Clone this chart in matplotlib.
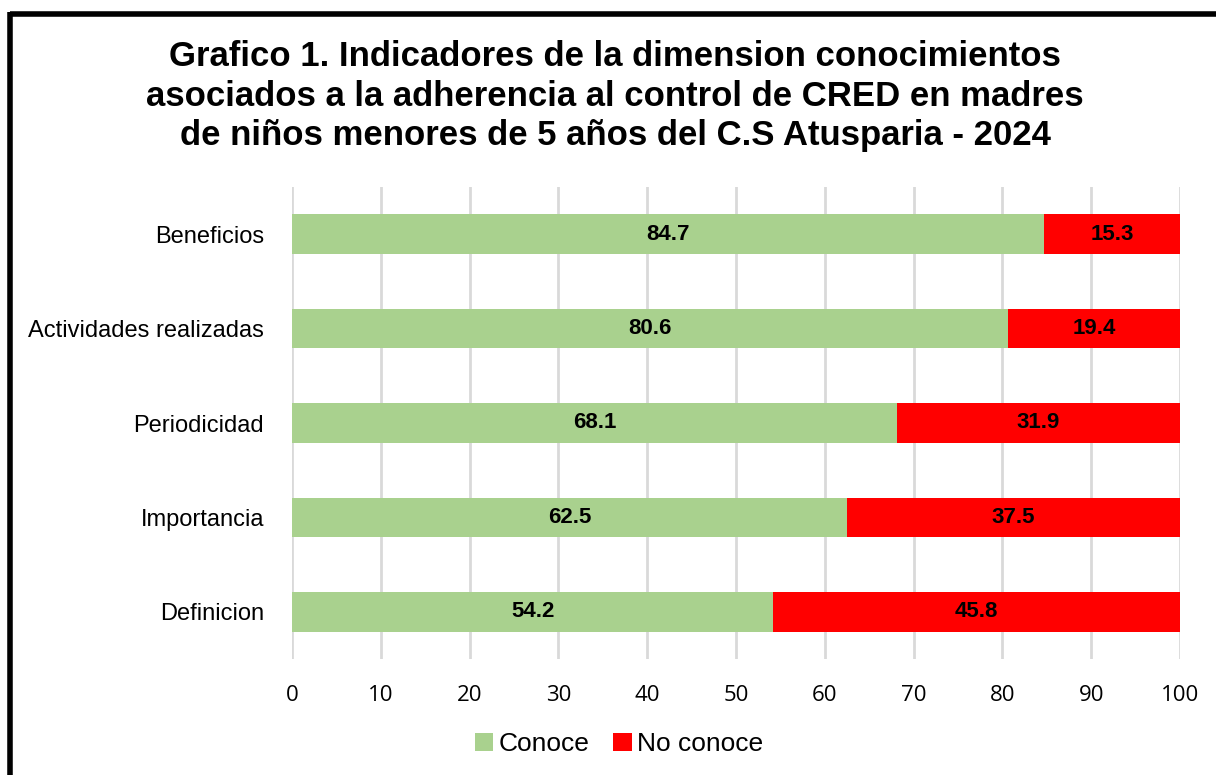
import matplotlib
matplotlib.use("Agg")
import matplotlib.pyplot as plt
from matplotlib.lines import Line2D
from matplotlib.patches import Patch

categories = ["Definicion", "Importancia", "Periodicidad", "Actividades realizadas", "Beneficios"]
conoce = [54.2, 62.5, 68.1, 80.6, 84.7]
no_conoce = [45.8, 37.5, 31.9, 19.4, 15.3]
series_names = ["Conoce", "No conoce"]
xticks = [0, 10, 20, 30, 40, 50, 60, 70, 80, 90, 100]
title = ("Grafico 1. Indicadores de la dimension conocimientos\n"
         "asociados a la adherencia al control de CRED en madres\n"
         "de niños menores de 5 años del C.S Atusparia - 2024")

GREEN = "#A9D18E"
RED = "#FF0000"

fig = plt.figure(figsize=(12.16, 7.75), dpi=100)
ax = fig.add_axes([292/1216, 1-659/775, (1180-292)/1216, (659-187)/775])

y = list(range(len(categories)))
ax.barh(y, conoce, height=0.42, color=GREEN, label=series_names[0], zorder=3)
ax.barh(y, no_conoce, left=conoce, height=0.42, color=RED, label=series_names[1], zorder=3)

for i in y:
    ax.text(conoce[i]/2, i, f"{conoce[i]:.1f}", ha="center", va="center",
            fontsize=16, fontweight="bold", family="Liberation Sans", zorder=4)
    ax.text(conoce[i] + no_conoce[i]/2, i, f"{no_conoce[i]:.1f}", ha="center", va="center",
            fontsize=16, fontweight="bold", family="Liberation Sans", zorder=4)

ax.set_xlim(0, 100)
ax.set_ylim(-0.5, len(categories) - 0.5)
ax.set_xticks(xticks)
ax.set_xticklabels([str(t) for t in xticks], family="Open Sans", fontsize=16)
ax.set_yticks(y)
ax.set_yticklabels(categories, family="Liberation Sans", fontsize=17)
ax.tick_params(axis="both", length=0)
ax.tick_params(axis="x", pad=19)
ax.tick_params(axis="y", pad=20)
for s in ax.spines.values():
    s.set_visible(False)
ax.grid(axis="x", color="#D9D9D9", linewidth=2, zorder=0)
ax.set_axisbelow(True)

fig.text(0.506, 1-96/775, title, ha="center", va="center", fontsize=25,
         fontweight="bold", family="Liberation Sans", linespacing=1.26)

handles = [Patch(facecolor=GREEN, label=series_names[0]),
           Patch(facecolor=RED, label=series_names[1])]
fig.legend(handles=handles, loc="center", bbox_to_anchor=(619/1216, 1-744/775),
           ncol=2, frameon=False, prop={"family": "Liberation Sans", "size": 19},
           handlelength=0.7, handleheight=0.7, handletextpad=0.2, columnspacing=0.9)

# Outer border (top and left visible)
fig.add_artist(Line2D([9.5/1216, 1.05], [1-14/775, 1-14/775], color="black", linewidth=4,
                      transform=fig.transFigure, solid_capstyle="butt"))
fig.add_artist(Line2D([9.5/1216, 9.5/1216], [-0.05, 1-12/775], color="black", linewidth=4,
                      transform=fig.transFigure, solid_capstyle="butt"))

fig.savefig("out.png", dpi=100)
